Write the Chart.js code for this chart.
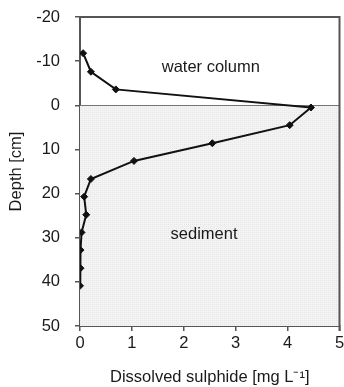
<!DOCTYPE html>
<html>
<head>
<meta charset="utf-8">
<title>Sulphide profile</title>
<script src="https://cdn.jsdelivr.net/npm/chart.js@4.4.1/dist/chart.umd.min.js"></script>
<style>
  body { margin: 0; background: #fff; }
  #wrap { width: 344px; height: 387px; overflow: hidden; }
</style>
</head>
<body>
<div id="wrap"><canvas id="profile" width="352" height="387"></canvas></div>
<script>
// depth profile
var depth = [-11.8, -7.6, -3.6, 0.5, 4.5, 8.6, 12.6, 16.7, 20.7, 24.8, 28.8, 32.8, 36.9, 40.9];
var sulphide = [0.06, 0.21, 0.69, 4.45, 4.04, 2.55, 1.04, 0.21, 0.08, 0.12, 0.03, 0.01, 0.01, 0.0];
var xTicks = [0, 1, 2, 3, 4, 5];
var yTicks = [-20, -10, 0, 10, 20, 30, 40, 50];
var zoneNames = ['water column', 'sediment'];
var zoneX = [2.52, 2.39];
var zoneY = [-8.6, 29.3];
var interfaceDepth = 0;

var FONT = "'Liberation Sans', Arial, sans-serif";
var AXIS = '#555';

// light dotted fill for the sediment part
function dotPattern() {
  var c = document.createElement('canvas');
  c.width = 4; c.height = 4;
  var g = c.getContext('2d');
  g.fillStyle = '#f3f3f3';
  g.fillRect(0, 0, 4, 4);
  g.fillStyle = '#e4e4e4';
  g.fillRect(0, 0, 1, 1);
  g.fillRect(2, 2, 1, 1);
  g.fillStyle = '#ebebeb';
  g.fillRect(2, 0, 1, 1);
  g.fillRect(0, 2, 1, 1);
  return g.createPattern(c, 'repeat');
}

var zones = {
  id: 'zones',
  beforeDatasetsDraw: function(chart) {
    var ctx = chart.ctx, a = chart.chartArea;
    var x = chart.scales.x, y = chart.scales.y;
    var y0 = y.getPixelForValue(interfaceDepth);
    ctx.save();
    ctx.fillStyle = dotPattern();
    ctx.fillRect(a.left, y0, a.right - a.left, a.bottom - y0);
    ctx.strokeStyle = '#777';
    ctx.lineWidth = 1;
    ctx.beginPath();
    ctx.moveTo(a.left, Math.round(y0) + 0.5);
    ctx.lineTo(a.right, Math.round(y0) + 0.5);
    ctx.stroke();
    ctx.fillStyle = '#1a1a1a';
    ctx.font = '16.5px ' + FONT;
    ctx.textAlign = 'center';
    ctx.textBaseline = 'middle';
    for (var i = 0; i < zoneNames.length; i++) {
      ctx.fillText(zoneNames[i], x.getPixelForValue(zoneX[i]), y.getPixelForValue(zoneY[i]));
    }
    ctx.restore();
  },
  afterDraw: function(chart) {
    var ctx = chart.ctx, a = chart.chartArea;
    ctx.save();
    ctx.strokeStyle = AXIS;
    ctx.lineWidth = 2;
    ctx.beginPath();
    ctx.moveTo(a.left, a.top);
    ctx.lineTo(a.right, a.top);
    ctx.lineTo(a.right, a.bottom + 5);
    ctx.stroke();
    ctx.restore();
  }
};

var points = depth.map(function(d, i) { return {x: sulphide[i], y: d}; });

new Chart(document.getElementById('profile'), {
  type: 'scatter',
  data: {
    datasets: [{
      data: points,
      showLine: true,
      borderColor: '#111',
      borderWidth: 2,
      backgroundColor: '#111',
      pointStyle: 'rectRot',
      pointRadius: 3.5,
      pointBorderWidth: 1,
      tension: 0
    }]
  },
  options: {
    responsive: false,
    animation: false,
    devicePixelRatio: 1,
    layout: { padding: { top: 17, right: 12.5, bottom: 0, left: 0 } },
    plugins: { legend: { display: false }, tooltip: { enabled: false } },
    scales: {
      x: {
        type: 'linear',
        min: 0, max: 5,
        afterBuildTicks: function(s) { s.ticks = xTicks.map(function(v) { return {value: v}; }); },
        afterFit: function(s) { s.height = 61; s.paddingLeft = 0; s.paddingRight = 0; },
        border: { display: true, color: AXIS, width: 2 },
        grid: { drawOnChartArea: false, drawTicks: true, tickLength: 5, color: AXIS, lineWidth: 1.5 },
        ticks: { color: '#1a1a1a', font: { family: FONT, size: 16.5 }, padding: 3, maxRotation: 0 },
        title: { display: true, text: 'Dissolved sulphide [mg L\u207B\u00B9]', color: '#1a1a1a', font: { family: FONT, size: 16.5 }, padding: { top: 0, bottom: 0 } }
      },
      y: {
        type: 'linear',
        reverse: true,
        min: -20, max: 50,
        afterBuildTicks: function(s) { s.ticks = yTicks.map(function(v) { return {value: v}; }); },
        afterFit: function(s) { s.width = 80; s.paddingTop = 0; s.paddingBottom = 0; },
        border: { display: true, color: AXIS, width: 2 },
        grid: { drawOnChartArea: false, drawTicks: true, tickLength: 5, color: AXIS, lineWidth: 1.5 },
        ticks: { color: '#1a1a1a', font: { family: FONT, size: 16.5 }, padding: 15 },
        title: { display: true, text: 'Depth [cm]', color: '#1a1a1a', font: { family: FONT, size: 16.5 }, padding: { top: 7, bottom: 0 } }
      }
    }
  },
  plugins: [zones]
});
</script>
</body>
</html>
